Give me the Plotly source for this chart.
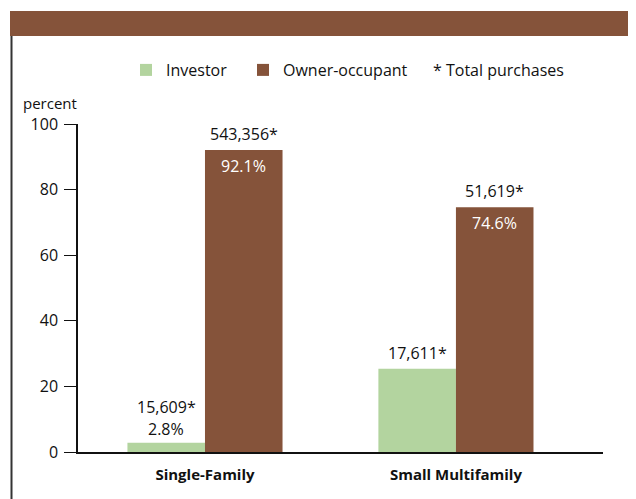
import plotly.graph_objects as go

categories = ["Single-Family", "Small Multifamily"]
investor_pct = [2.8, 25.4]
owner_pct = [92.1, 74.6]
investor_total = ["15,609*", "17,611*"]
owner_total = ["543,356*", "51,619*"]
investor_pct_label = ["2.8%", ""]
owner_pct_label = ["92.1%", "74.6%"]
y_ticks = [0, 20, 40, 60, 80, 100]

GREEN = "#B3D49F"
BROWN = "#85533A"
FONT = "'Open Sans', Lato, sans-serif"

# the page body adds an 8px margin; lay out in window pixels and compensate
OFF = 8
W, H = 636 - OFF, 499 - OFF
PLOT_L, PLOT_R, PLOT_T, PLOT_B = 78, 603, 124, 452  # window pixels
ML, MT = PLOT_L - OFF, PLOT_T - OFF
MR = W - (PLOT_R - OFF)
MB = H - (PLOT_B - OFF)
PW = W - ML - MR
PH = H - MT - MB


def px(x):
    return (x - OFF - ML) / PW


def py(y):
    return (MT + PH - (y - OFF)) / PH


xs = list(range(len(categories)))
fig = go.Figure()
fig.add_trace(go.Bar(x=xs, y=investor_pct, name="Investor", marker_color=GREEN,
                     marker_line_width=0, legend="legend"))
fig.add_trace(go.Bar(x=xs, y=owner_pct, name="Owner-occupant", marker_color=BROWN,
                     marker_line_width=0, legend="legend2"))

bargap = 0.382
half = (1 - bargap) / 4
annotations = []
LBL = dict(size=16, color="#111")
for i in xs:
    xi = i - half
    xo = i + half
    if investor_pct_label[i]:
        annotations.append(dict(x=xi, y=investor_pct[i], text=investor_pct_label[i],
                                showarrow=False, yanchor="bottom", yshift=1, font=LBL))
        annotations.append(dict(x=xi, y=investor_pct[i], text=investor_total[i],
                                showarrow=False, yanchor="bottom", yshift=23, font=LBL))
    else:
        annotations.append(dict(x=xi, y=investor_pct[i], text=investor_total[i],
                                showarrow=False, yanchor="bottom", yshift=3, font=LBL))
    annotations.append(dict(x=xo, y=owner_pct[i], text=owner_total[i],
                            showarrow=False, yanchor="bottom", yshift=3, font=LBL))
    annotations.append(dict(x=xo, y=owner_pct[i], text=owner_pct_label[i],
                            showarrow=False, yanchor="top", yshift=-3,
                            font=dict(size=16, color="white")))

annotations.append(dict(xref="paper", yref="paper", x=px(50), y=py(103),
                        text="percent", showarrow=False, xanchor="center",
                        yanchor="middle", font=dict(size=15, color="#111")))
annotations.append(dict(xref="paper", yref="paper", x=px(431), y=py(70),
                        text="* Total purchases", showarrow=False, xanchor="left",
                        yanchor="middle", font=LBL))

shapes = [
    dict(type="rect", xref="paper", yref="paper", x0=px(10), x1=px(650),
         y0=py(36), y1=py(11), fillcolor=BROWN, line_width=0, layer="below"),
    dict(type="line", xref="paper", yref="paper", x0=px(11.5), x1=px(11.5),
         y0=py(36), y1=py(510), line=dict(color="#333", width=2)),
]

leg_common = dict(orientation="h", xanchor="left", yanchor="middle",
                  font=dict(size=16, color="#111"), itemclick=False,
                  bgcolor="rgba(0,0,0,0)")

fig.update_layout(
    width=W, height=H,
    margin=dict(l=ML, r=MR, t=MT, b=MB, autoexpand=False),
    paper_bgcolor="white", plot_bgcolor="white",
    font=dict(family=FONT, size=16, color="#111"),
    barmode="group", bargap=bargap, bargroupgap=0,
    showlegend=True,
    legend=dict(x=px(126), y=py(70), **leg_common),
    legend2=dict(x=px(243), y=py(70), **leg_common),
    xaxis=dict(range=[-0.506, 1.586], tickvals=xs,
               ticktext=["<b>%s</b>" % c for c in categories],
               showline=True, linecolor="#111", linewidth=1.5, ticks="",
               showgrid=False, zeroline=False, tickfont=dict(size=15),
               ticklabelstandoff=8, fixedrange=True),
    yaxis=dict(range=[0, 100], tickvals=y_ticks, showline=True, linecolor="#111",
               linewidth=1.5, ticks="outside", ticklen=12, tickcolor="#111",
               tickwidth=1.2, showgrid=False, zeroline=False,
               tickfont=dict(size=16), ticklabelstandoff=3, fixedrange=True),
    annotations=annotations,
    shapes=shapes,
)

fig.write_html("out.html")
